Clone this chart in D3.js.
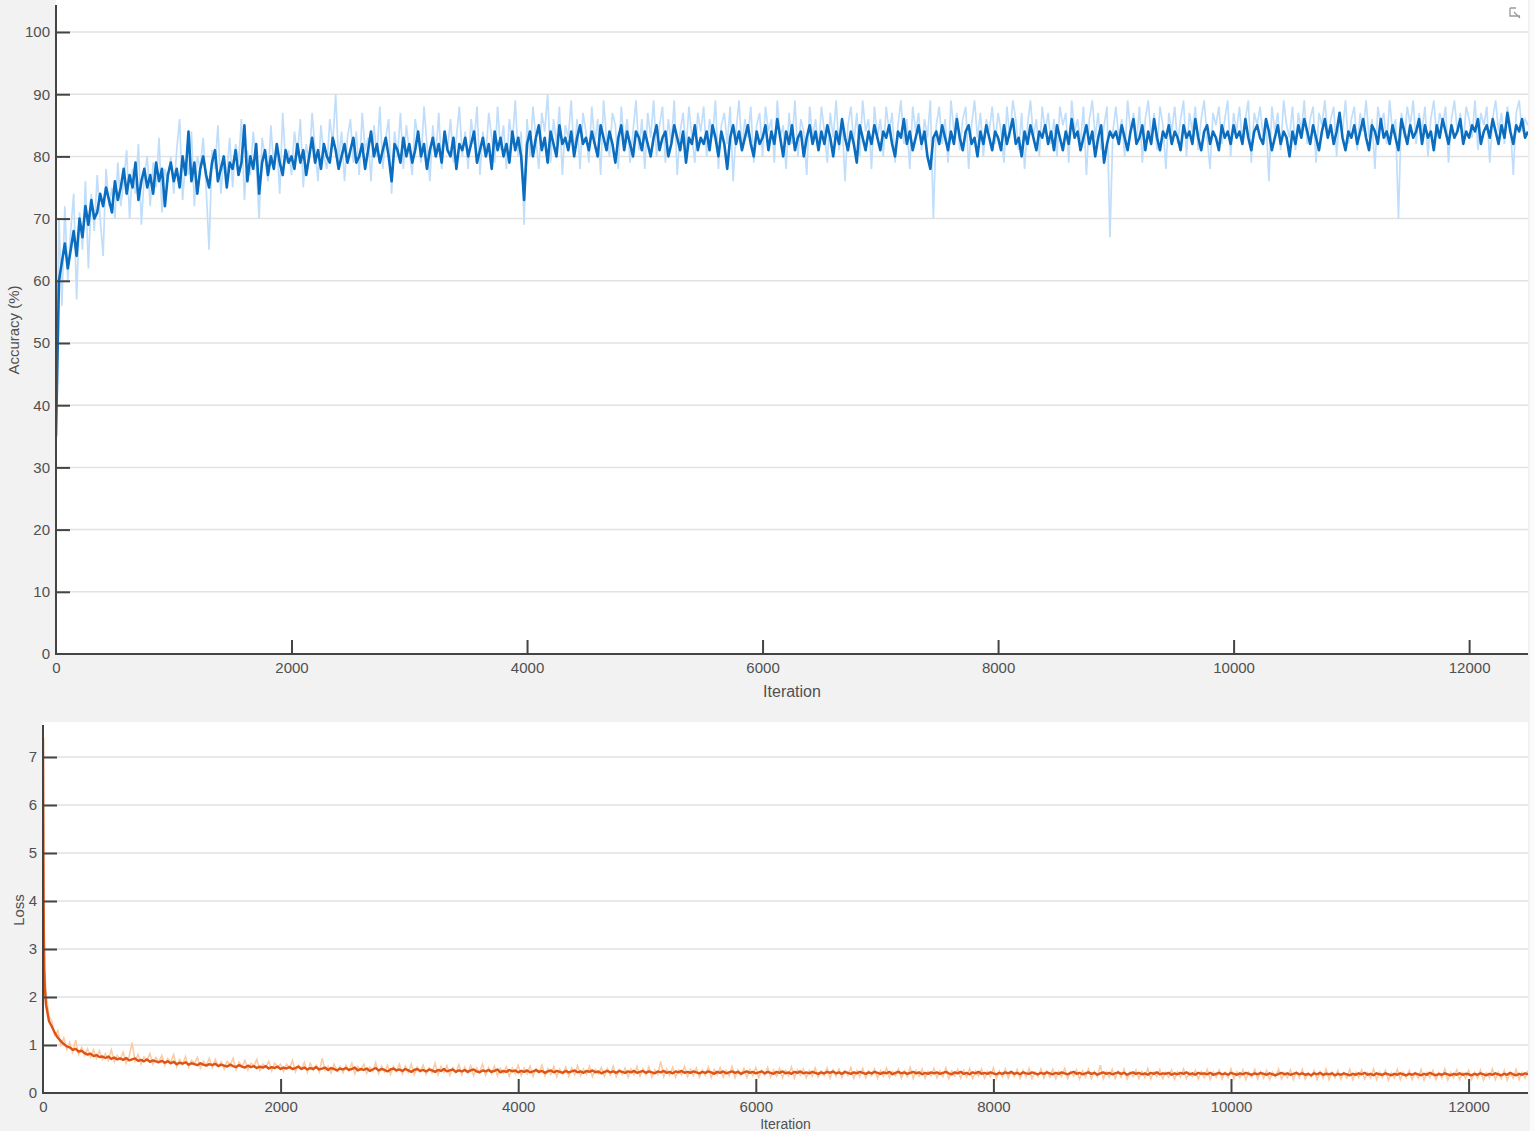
<!DOCTYPE html>
<meta charset="utf-8">
<script src="https://d3js.org/d3.v7.min.js"></script>
<style>
	body{
		margin:0;
		background-color:#f2f2f2;
	}
	text{
		font-family:'Liberation Sans Narrow','Liberation Sans',Arial,sans-serif;
		fill:#505050;
	}
</style>
<div id="chart"></div>
<script>

// accuracy, one value every 25 iterations (0..12500)
var accSmooth = [
35,60,63,66,62,65,68,64,70,67,72,69,73,70,71,74,72,75,73,71,
76,73,75,78,74,77,75,79,73,76,78,75,77,74,79,76,78,72,77,79,
76,78,75,80,77,84,76,79,74,78,80,77,75,79,81,76,78,80,75,79,
78,81,77,79,85,76,80,78,82,74,79,81,77,80,78,82,79,77,81,79,
80,78,82,79,81,77,80,83,79,81,78,82,80,79,83,81,78,80,82,79,
81,83,79,80,82,78,81,84,80,82,79,81,83,80,76,82,81,79,83,80,
82,79,81,84,80,82,78,81,83,80,82,79,84,81,80,83,78,82,81,83,
80,82,84,79,81,83,80,82,78,84,81,83,80,82,79,84,81,83,80,73,
82,84,80,83,85,81,83,79,84,82,80,85,82,83,81,84,80,83,85,82,
83,81,84,82,80,85,83,81,84,82,79,83,85,81,84,82,80,84,83,81,
84,82,80,83,85,81,83,84,80,82,85,83,81,84,79,83,82,85,81,83,
82,84,81,85,83,80,84,82,78,83,85,82,84,81,83,85,82,80,84,82,
83,85,81,84,82,86,83,80,84,82,85,81,83,84,80,83,85,82,84,81,
84,82,85,83,80,84,82,86,83,81,84,82,79,85,83,81,84,82,85,83,
81,84,83,85,82,80,84,83,86,82,84,81,83,85,82,84,80,78,83,84,
82,85,83,81,84,82,86,83,81,84,85,82,83,80,84,82,85,83,81,84,
83,81,85,82,84,86,82,83,80,84,82,85,83,81,84,83,85,82,84,81,
85,83,81,84,82,86,83,84,81,83,85,82,84,80,83,85,79,82,84,83,
84,82,85,83,81,84,86,82,83,85,81,84,82,86,83,81,84,83,85,82,
84,83,81,85,83,84,82,86,83,81,84,85,82,84,83,81,85,83,84,82,
85,83,84,82,86,83,81,84,85,83,82,86,84,81,83,85,82,84,83,80,
84,82,85,83,86,84,82,85,83,81,84,86,83,85,82,84,87,83,81,84,
83,85,82,84,86,83,81,85,84,82,86,83,84,82,85,83,81,86,84,82,
85,83,84,86,82,85,83,84,81,85,83,86,84,82,85,83,84,86,82,84,
83,85,84,86,82,84,85,83,86,84,82,85,83,87,84,82,85,84,86,83,
84]

var accRaw = [
38,70,56,72,60,68,74,57,71,65,76,62,74,68,77,70,64,78,72,75,
70,79,72,76,81,70,78,74,82,69,77,80,72,79,75,83,71,78,76,80,
74,81,86,73,79,77,84,72,80,78,83,75,65,81,78,85,74,80,77,83,
75,82,79,86,73,81,77,84,79,70,83,80,76,85,78,82,74,87,79,81,
77,84,80,86,75,82,79,87,81,76,85,80,78,86,82,90,79,84,76,83,
86,79,84,77,87,81,83,76,85,80,88,78,83,86,74,84,80,87,78,85,
81,77,86,83,79,88,82,76,85,80,87,78,84,81,86,79,83,88,80,84,
78,86,82,88,77,84,80,87,83,79,88,81,85,78,86,82,89,80,84,69,
86,80,88,83,78,87,84,90,79,86,82,88,77,85,83,89,80,86,78,87,
84,79,88,82,86,77,89,83,80,87,85,78,88,82,86,79,84,89,81,86,
78,87,83,89,80,85,88,79,86,82,89,77,84,87,81,88,83,79,87,84,
88,80,86,83,89,78,85,87,82,88,76,84,89,81,86,83,88,79,85,87,
80,88,84,86,79,89,83,85,78,87,82,89,80,86,84,77,88,83,86,81,
88,84,79,87,83,89,81,86,76,85,88,82,87,80,89,84,86,78,88,83,
86,80,88,84,87,79,85,89,82,86,78,88,84,87,81,86,83,89,70,85,
88,82,86,79,89,84,87,81,86,88,78,85,89,83,87,80,86,84,88,82,
87,84,79,88,83,89,86,81,87,78,85,89,83,86,80,88,84,87,82,86,
80,88,85,87,79,89,84,86,82,88,77,86,89,83,87,81,85,88,67,84,
88,83,86,80,89,84,87,82,88,79,86,89,83,87,81,88,85,78,87,84,
88,82,86,89,80,87,84,88,81,86,89,83,78,87,85,88,82,86,89,80,
87,84,88,82,86,89,79,87,85,88,83,86,76,88,84,87,81,89,85,83,
88,81,87,84,89,82,86,88,79,87,85,89,83,86,88,80,87,84,89,82,
86,88,81,87,84,89,83,86,78,88,85,87,82,89,84,86,70,87,83,88,
85,89,82,87,84,88,80,86,89,83,87,85,88,79,86,89,84,87,82,88,
86,83,89,81,87,85,88,79,86,89,84,87,82,88,85,77,87,89,84,86,
85]

// loss: first few iterations, then one value every 25 iterations (25..12500)
var lossHeadIter = [0,5,10,15]
var lossHeadSmooth = [7.4,3.9,2.6,2.2]
var lossHeadRaw = [7.6,4.6,3.3,2.6]

var lossSmooth = [
1.85,1.5,1.38,1.25,1.15,1.08,1.02,0.97,0.95,0.9,0.92,0.86,0.88,0.83,0.8,0.82,0.77,0.79,0.75,0.76,
0.73,0.76,0.71,0.74,0.7,0.72,0.69,0.73,0.68,0.7,0.72,0.67,0.69,0.66,0.7,0.65,0.68,0.66,0.64,0.67,
0.63,0.66,0.62,0.65,0.6,0.63,0.61,0.64,0.59,0.62,0.6,0.58,0.62,0.59,0.57,0.6,0.58,0.61,0.56,0.59,
0.57,0.55,0.59,0.56,0.54,0.58,0.55,0.53,0.57,0.54,0.56,0.52,0.55,0.53,0.56,0.51,0.54,0.52,0.55,0.5,
0.53,0.51,0.54,0.5,0.52,0.55,0.5,0.53,0.49,0.52,0.5,0.54,0.49,0.51,0.53,0.48,0.52,0.5,0.47,0.51,
0.49,0.52,0.48,0.5,0.53,0.47,0.5,0.48,0.51,0.46,0.49,0.52,0.47,0.5,0.48,0.45,0.49,0.51,0.47,0.49,
0.46,0.5,0.47,0.44,0.48,0.5,0.46,0.48,0.45,0.49,0.47,0.44,0.48,0.46,0.5,0.45,0.47,0.49,0.44,0.47,
0.45,0.48,0.44,0.47,0.49,0.45,0.43,0.47,0.45,0.48,0.44,0.46,0.49,0.43,0.46,0.44,0.48,0.45,0.47,0.43,
0.46,0.44,0.47,0.43,0.45,0.48,0.44,0.46,0.42,0.45,0.47,0.43,0.46,0.44,0.42,0.46,0.43,0.45,0.47,0.43,
0.45,0.42,0.46,0.44,0.47,0.43,0.45,0.41,0.44,0.46,0.43,0.45,0.42,0.46,0.44,0.42,0.45,0.43,0.46,0.42,
0.44,0.46,0.42,0.45,0.43,0.41,0.45,0.43,0.46,0.42,0.44,0.41,0.45,0.43,0.46,0.42,0.44,0.42,0.45,0.43,
0.41,0.44,0.42,0.45,0.43,0.4,0.44,0.42,0.45,0.41,0.43,0.45,0.42,0.44,0.4,0.43,0.45,0.42,0.44,0.41,
0.43,0.45,0.41,0.44,0.42,0.4,0.44,0.42,0.45,0.41,0.43,0.4,0.44,0.42,0.45,0.41,0.43,0.41,0.44,0.42,
0.4,0.43,0.41,0.44,0.42,0.45,0.41,0.43,0.4,0.44,0.42,0.4,0.43,0.41,0.44,0.42,0.4,0.43,0.41,0.44,
0.42,0.4,0.43,0.41,0.44,0.39,0.42,0.44,0.41,0.43,0.4,0.42,0.44,0.41,0.43,0.39,0.42,0.4,0.43,0.41,
0.43,0.4,0.42,0.44,0.41,0.39,0.43,0.41,0.44,0.4,0.42,0.39,0.43,0.41,0.44,0.4,0.42,0.4,0.43,0.41,
0.39,0.42,0.4,0.43,0.41,0.44,0.4,0.42,0.39,0.43,0.41,0.4,0.43,0.41,0.39,0.42,0.4,0.43,0.41,0.39,
0.42,0.4,0.43,0.41,0.39,0.42,0.44,0.4,0.42,0.39,0.41,0.43,0.4,0.42,0.38,0.41,0.43,0.4,0.42,0.39,
0.41,0.43,0.4,0.42,0.38,0.41,0.43,0.4,0.42,0.39,0.41,0.38,0.42,0.4,0.43,0.39,0.41,0.4,0.42,0.38,
0.41,0.39,0.42,0.4,0.43,0.39,0.41,0.38,0.42,0.4,0.41,0.39,0.42,0.38,0.4,0.42,0.39,0.41,0.38,0.42,
0.4,0.38,0.41,0.39,0.42,0.4,0.38,0.41,0.39,0.42,0.4,0.38,0.41,0.39,0.37,0.4,0.42,0.39,0.41,0.38,
0.4,0.42,0.39,0.41,0.38,0.4,0.37,0.41,0.39,0.42,0.38,0.4,0.39,0.41,0.37,0.4,0.38,0.41,0.39,0.37,
0.4,0.38,0.41,0.39,0.42,0.38,0.4,0.37,0.41,0.39,0.38,0.41,0.39,0.37,0.4,0.38,0.41,0.39,0.37,0.4,
0.38,0.41,0.39,0.37,0.4,0.38,0.42,0.39,0.37,0.4,0.38,0.41,0.39,0.37,0.4,0.38,0.41,0.38,0.4,0.39,
0.37,0.4,0.38,0.41,0.39,0.37,0.4,0.38,0.41,0.39,0.37,0.4,0.38,0.42,0.39,0.37,0.4,0.38,0.41,0.39]

var lossRaw = [
2.1,1.6,1.5,1.2,1.3,1.0,1.15,0.9,1.05,0.85,1.1,0.8,0.95,0.78,0.92,0.75,0.9,0.72,0.88,0.7,
0.82,0.68,0.9,0.65,0.78,0.7,0.85,0.62,0.76,1.05,0.66,0.8,0.6,0.75,0.68,0.82,0.6,0.74,0.65,0.78,
0.58,0.72,0.64,0.8,0.55,0.7,0.6,0.76,0.54,0.68,0.62,0.74,0.52,0.66,0.58,0.72,0.53,0.7,0.56,0.65,
0.5,0.66,0.58,0.72,0.49,0.64,0.55,0.68,0.48,0.62,0.57,0.7,0.47,0.6,0.54,0.66,0.46,0.62,0.55,0.6,
0.45,0.6,0.52,0.68,0.44,0.58,0.5,0.64,0.43,0.62,0.48,0.58,0.44,0.72,0.47,0.56,0.42,0.6,0.46,0.55,
0.42,0.58,0.46,0.62,0.4,0.55,0.48,0.6,0.41,0.54,0.45,0.63,0.4,0.56,0.44,0.58,0.39,0.55,0.45,0.6,
0.4,0.56,0.43,0.6,0.38,0.54,0.44,0.58,0.39,0.52,0.42,0.62,0.38,0.55,0.43,0.57,0.37,0.53,0.42,0.59,
0.38,0.54,0.41,0.57,0.36,0.52,0.43,0.6,0.37,0.53,0.4,0.56,0.36,0.51,0.42,0.55,0.35,0.52,0.4,0.58,
0.37,0.52,0.4,0.56,0.35,0.5,0.41,0.58,0.36,0.51,0.39,0.55,0.34,0.5,0.4,0.54,0.35,0.52,0.38,0.57,
0.36,0.5,0.39,0.55,0.34,0.49,0.4,0.53,0.35,0.51,0.38,0.56,0.34,0.49,0.39,0.52,0.33,0.5,0.38,0.55,
0.35,0.5,0.38,0.54,0.33,0.48,0.39,0.66,0.34,0.5,0.37,0.53,0.33,0.48,0.38,0.55,0.34,0.49,0.36,0.52,
0.33,0.48,0.37,0.54,0.32,0.49,0.38,0.52,0.33,0.47,0.36,0.55,0.32,0.48,0.37,0.51,0.33,0.49,0.36,0.53,
0.32,0.47,0.37,0.53,0.33,0.48,0.35,0.51,0.32,0.47,0.36,0.54,0.31,0.48,0.37,0.5,0.32,0.47,0.35,0.52,
0.33,0.46,0.36,0.52,0.31,0.48,0.35,0.5,0.32,0.46,0.37,0.53,0.31,0.47,0.34,0.51,0.32,0.46,0.36,0.5,
0.31,0.47,0.35,0.52,0.32,0.45,0.36,0.5,0.31,0.46,0.34,0.53,0.3,0.47,0.35,0.5,0.31,0.45,0.36,0.51,
0.32,0.46,0.34,0.52,0.3,0.46,0.35,0.49,0.31,0.47,0.33,0.51,0.3,0.46,0.35,0.5,0.31,0.45,0.34,0.52,
0.3,0.46,0.34,0.5,0.31,0.45,0.35,0.49,0.3,0.47,0.33,0.51,0.3,0.44,0.34,0.5,0.31,0.46,0.33,0.49,
0.3,0.45,0.34,0.51,0.3,0.44,0.35,0.48,0.29,0.46,0.33,0.5,0.3,0.45,0.34,0.58,0.3,0.44,0.33,0.49,
0.3,0.45,0.33,0.5,0.29,0.44,0.34,0.48,0.3,0.45,0.32,0.51,0.29,0.44,0.34,0.49,0.3,0.43,0.33,0.48,
0.29,0.44,0.33,0.5,0.3,0.43,0.34,0.47,0.29,0.45,0.32,0.49,0.28,0.44,0.33,0.48,0.29,0.43,0.32,0.5,
0.29,0.44,0.32,0.48,0.28,0.43,0.33,0.49,0.29,0.44,0.31,0.47,0.28,0.43,0.33,0.5,0.29,0.42,0.32,0.48,
0.28,0.44,0.32,0.49,0.29,0.42,0.33,0.47,0.28,0.44,0.31,0.5,0.28,0.43,0.32,0.47,0.29,0.42,0.31,0.49,
0.28,0.43,0.32,0.48,0.29,0.42,0.31,0.5,0.28,0.43,0.32,0.47,0.27,0.42,0.31,0.49,0.28,0.43,0.32,0.47,
0.28,0.42,0.31,0.49,0.27,0.43,0.32,0.47,0.28,0.42,0.31,0.5,0.27,0.43,0.32,0.48,0.28,0.42,0.3,0.47,
0.28,0.43,0.31,0.48,0.27,0.42,0.32,0.5,0.28,0.43,0.3,0.47,0.27,0.42,0.31,0.49,0.28,0.43,0.31,0.47]

var iterTicks = [0,2000,4000,6000,8000,10000,12000]
var accTicks = [0,10,20,30,40,50,60,70,80,90,100]
var lossTicks = [0,1,2,3,4,5,6,7]

var W = 1535
var H = 1131
var axisColor = "#444"
var gridColor = "#e2e2e2"
var plain = d3.format("d")

var svg = d3.select("#chart").append("svg").attr("width",W).attr("height",H)

// ---------- accuracy panel ----------
var top1 = {left:56, right:1528, top:0, bottom:654}
var accX = d3.scaleLinear().domain([0,12500]).range([top1.left,top1.right])
var accY = d3.scaleLinear().domain([0,100]).range([top1.bottom,32])

svg.append("rect").attr("x",top1.left).attr("y",top1.top)
	.attr("width",top1.right-top1.left).attr("height",top1.bottom-top1.top).attr("fill","#fff")

svg.append("clipPath").attr("id","clipAcc").append("rect")
	.attr("x",top1.left).attr("y",top1.top).attr("width",top1.right-top1.left).attr("height",top1.bottom-top1.top)

svg.append("g").selectAll("line").data(accTicks.filter(function(d){return d>0}))
	.enter().append("line")
	.attr("x1",top1.left).attr("x2",top1.right)
	.attr("y1",function(d){return accY(d)}).attr("y2",function(d){return accY(d)})
	.attr("stroke",gridColor).attr("stroke-width",1.5)

var accLine = d3.line()
	.x(function(d,i){return accX(i*25)})
	.y(function(d){return accY(d)})

var accG = svg.append("g").attr("clip-path","url(#clipAcc)")
accG.append("path").datum(accRaw).attr("d",accLine)
	.attr("fill","none").attr("stroke","#c0defa").attr("stroke-width",1.7)
accG.append("path").datum(accSmooth).attr("d",accLine)
	.attr("fill","none").attr("stroke","#0a6dbf").attr("stroke-width",2.6)
	.attr("stroke-linejoin","round")

// axes (ticks point inward)
var accYAxis = d3.axisLeft(accY).tickValues(accTicks).tickSize(-14).tickPadding(6).tickFormat(plain)
var gy = svg.append("g").attr("transform","translate("+top1.left+",0)").call(accYAxis)
var accXAxis = d3.axisBottom(accX).tickValues(iterTicks).tickSize(-14).tickPadding(8).tickFormat(plain)
var gx = svg.append("g").attr("transform","translate(0,"+top1.bottom+")").call(accXAxis)

gy.select(".domain").remove()
gx.select(".domain").remove()
svg.append("line").attr("x1",top1.left).attr("x2",top1.left).attr("y1",5).attr("y2",top1.bottom+1)
	.attr("stroke",axisColor).attr("stroke-width",2)
svg.append("line").attr("x1",top1.left).attr("x2",top1.right).attr("y1",top1.bottom).attr("y2",top1.bottom)
	.attr("stroke",axisColor).attr("stroke-width",2)

svg.append("text").text("Iteration").attr("x",(top1.left+top1.right)/2).attr("y",697)
	.attr("text-anchor","middle").style("font-size","16px")
svg.append("text").text("Accuracy (%)")
	.attr("transform","translate(19,330) rotate(-90)")
	.attr("text-anchor","middle").style("font-size","15px")

// ---------- loss panel ----------
var bot = {left:43, right:1528, top:722, bottom:1093}
var lossX = d3.scaleLinear().domain([0,12500]).range([bot.left,bot.right])
var lossY = d3.scaleLinear().domain([0,7]).range([bot.bottom,757])

svg.append("rect").attr("x",bot.left).attr("y",bot.top)
	.attr("width",bot.right-bot.left).attr("height",bot.bottom-bot.top).attr("fill","#fff")

svg.append("clipPath").attr("id","clipLoss").append("rect")
	.attr("x",bot.left).attr("y",bot.top).attr("width",bot.right-bot.left).attr("height",bot.bottom-bot.top)

svg.append("g").selectAll("line").data(lossTicks.filter(function(d){return d>0}))
	.enter().append("line")
	.attr("x1",bot.left).attr("x2",bot.right)
	.attr("y1",function(d){return lossY(d)}).attr("y2",function(d){return lossY(d)})
	.attr("stroke",gridColor).attr("stroke-width",1.5)

var lossIter = lossHeadIter.concat(d3.range(25,12501,25))
var lossSmoothAll = lossHeadSmooth.concat(lossSmooth)
var lossRawAll = lossHeadRaw.concat(lossRaw)

var lossLine = d3.line()
	.x(function(d,i){return lossX(lossIter[i])})
	.y(function(d){return lossY(d)})

var lossG = svg.append("g").attr("clip-path","url(#clipLoss)")
lossG.append("path").datum(lossRawAll).attr("d",lossLine)
	.attr("fill","none").attr("stroke","#fbcba2").attr("stroke-width",1.6)
lossG.append("path").datum(lossSmoothAll).attr("d",lossLine)
	.attr("fill","none").attr("stroke","#dd5416").attr("stroke-width",2.4)
	.attr("stroke-linejoin","round")

var lossYAxis = d3.axisLeft(lossY).tickValues(lossTicks).tickSize(-14).tickPadding(6).tickFormat(plain)
var gy2 = svg.append("g").attr("transform","translate("+bot.left+",0)").call(lossYAxis)
var lossXAxis = d3.axisBottom(lossX).tickValues(iterTicks).tickSize(-14).tickPadding(8).tickFormat(plain)
var gx2 = svg.append("g").attr("transform","translate(0,"+bot.bottom+")").call(lossXAxis)

gy2.select(".domain").remove()
gx2.select(".domain").remove()
svg.append("line").attr("x1",bot.left).attr("x2",bot.left).attr("y1",725).attr("y2",bot.bottom+1)
	.attr("stroke",axisColor).attr("stroke-width",2)
svg.append("line").attr("x1",bot.left).attr("x2",bot.right).attr("y1",bot.bottom).attr("y2",bot.bottom)
	.attr("stroke",axisColor).attr("stroke-width",2)

svg.append("text").text("Iteration").attr("x",(bot.left+bot.right)/2).attr("y",1129)
	.attr("text-anchor","middle").style("font-size","14px")
svg.append("text").text("Loss")
	.attr("transform","translate(24,910) rotate(-90)")
	.attr("text-anchor","middle").style("font-size","15px")

// tick styling shared by all axes
svg.selectAll(".tick line").attr("stroke",axisColor).attr("stroke-width",2)
svg.selectAll(".tick text").style("font-size","15px").attr("fill","#505050")
// hide the tick marks that sit on the axis lines
gx.selectAll(".tick").filter(function(d){return d===0}).select("line").remove()
gy.selectAll(".tick").filter(function(d){return d===0}).select("line").remove()
gx2.selectAll(".tick").filter(function(d){return d===0}).select("line").remove()
gy2.selectAll(".tick").filter(function(d){return d===0}).select("line").remove()

// thin white strip on the right edge
svg.append("rect").attr("x",1530).attr("y",0).attr("width",5).attr("height",H).attr("fill","#fbfbfb")

// export icon, top right
svg.append("path").attr("d","M1510,8 l6,0 M1510,8 l0,8 l10,0 M1514,12 l6,6")
	.attr("stroke","#9a9a9a").attr("stroke-width",1.3).attr("fill","none")

</script>
